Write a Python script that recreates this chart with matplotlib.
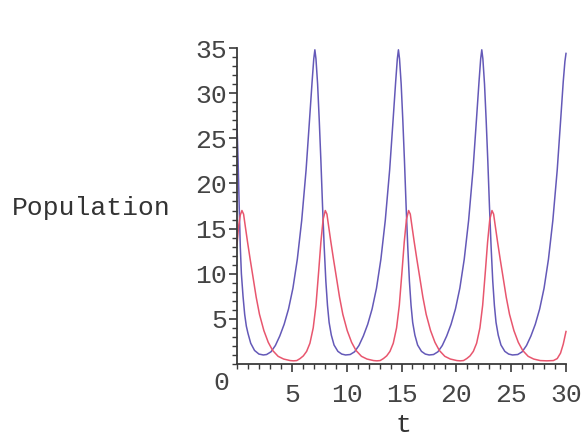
import matplotlib.pyplot as plt
from matplotlib.ticker import MultipleLocator

# values (predator / prey populations)
t_prey = [0.00, 0.10, 0.20, 0.30, 0.40, 0.55, 0.70, 0.85, 1.00, 1.25, 1.60, 2.00, 2.40,
          2.70, 3.10, 3.50, 3.90, 4.30, 4.70, 5.10, 5.50, 5.90, 6.30, 6.60, 6.85, 7.00,
          7.10, 7.20, 7.35, 7.50, 7.65, 7.80, 7.95, 8.10, 8.25, 8.40, 8.60, 8.85, 9.20,
          9.55, 9.90, 10.32, 10.72, 11.12, 11.52, 11.92, 12.32, 12.72, 13.12, 13.52,
          13.92, 14.22, 14.47, 14.62, 14.72, 14.82, 14.97, 15.12, 15.27, 15.42, 15.57,
          15.72, 15.87, 16.02, 16.22, 16.47, 16.82, 17.17, 17.52, 17.92, 18.32, 18.72,
          19.12, 19.52, 19.92, 20.32, 20.72, 21.12, 21.52, 21.82, 22.07, 22.22, 22.32,
          22.42, 22.57, 22.72, 22.87, 23.02, 23.17, 23.32, 23.47, 23.62, 23.82, 24.07,
          24.42, 24.77, 25.12, 25.60, 26.00, 26.40, 26.80, 27.20, 27.60, 28.00, 28.40,
          28.80, 29.20, 29.50, 29.75, 29.90, 30.00]
prey = [26.5, 22.5, 17.5, 13.0, 10.0, 7.5, 5.5, 4.2, 3.4, 2.3, 1.5, 1.1, 1.0,
        1.05, 1.35, 2.05, 3.1, 4.4, 6.1, 8.4, 11.6, 15.9, 21.5, 26.8, 31.3, 33.8,
        34.8, 33.8, 31.0, 27.0, 22.5, 17.5, 13.0, 9.2, 6.5, 4.6, 3.2, 2.1, 1.4,
        1.1, 1.0, 1.05, 1.35, 2.05, 3.1, 4.4, 6.1, 8.4, 11.6, 15.9,
        21.5, 26.8, 31.3, 33.8, 34.8, 33.8, 31.0, 27.0, 22.5, 17.5, 13.0,
        9.2, 6.5, 4.6, 3.2, 2.1, 1.4, 1.1, 1.0, 1.05, 1.35, 2.05,
        3.1, 4.4, 6.1, 8.4, 11.6, 15.9, 21.5, 26.8, 31.3, 33.8, 34.8,
        33.8, 31.0, 27.0, 22.5, 17.5, 13.0, 9.2, 6.5, 4.6, 3.2, 2.1,
        1.4, 1.1, 1.0, 1.05, 1.35, 2.05, 3.1, 4.4, 6.1, 8.4, 11.6,
        15.9, 21.5, 26.8, 31.3, 33.5, 34.4]

t_pred = [0.00, 0.15, 0.30, 0.45, 0.60, 0.75, 0.95, 1.20, 1.45, 1.75, 2.05, 2.45, 2.85,
          3.25, 3.75, 4.25, 4.85, 5.15, 5.45, 5.75, 6.05, 6.35, 6.65, 6.95, 7.20, 7.45,
          7.65, 7.85, 8.05, 8.20, 8.35, 8.55, 8.80, 9.05, 9.35, 9.65, 10.05, 10.45,
          10.85, 11.35, 11.85, 12.45, 12.75, 13.05, 13.35, 13.65, 13.95, 14.25, 14.55,
          14.80, 15.05, 15.25, 15.45, 15.65, 15.80, 15.95, 16.15, 16.40, 16.65, 16.95,
          17.25, 17.65, 18.05, 18.45, 18.95, 19.45, 20.05, 20.35, 20.65, 20.95, 21.25,
          21.55, 21.85, 22.15, 22.40, 22.65, 22.85, 23.05, 23.25, 23.40, 23.55, 23.75,
          24.00, 24.25, 24.55, 24.85, 25.25, 25.65, 26.05, 26.55, 27.05, 27.65, 28.25,
          28.85, 29.20, 29.50, 29.75, 30.00]
pred = [13.2, 15.3, 16.5, 17.0, 16.6, 15.3, 13.6, 11.6, 9.7, 7.4, 5.5, 3.7, 2.4,
        1.5, 0.85, 0.55, 0.38, 0.35, 0.38, 0.6, 0.9, 1.4, 2.3, 4.0, 6.5, 10.3,
        13.5, 16.0, 17.0, 16.6, 15.3, 13.6, 11.6, 9.7, 7.4, 5.5, 3.7, 2.4,
        1.5, 0.85, 0.55, 0.38, 0.35, 0.38, 0.6, 0.9, 1.4, 2.3, 4.0,
        6.5, 10.3, 13.5, 16.0, 17.0, 16.6, 15.3, 13.6, 11.6, 9.7, 7.4,
        5.5, 3.7, 2.4, 1.5, 0.85, 0.55, 0.38, 0.35, 0.38, 0.6, 0.9,
        1.4, 2.3, 4.0, 6.5, 10.3, 13.5, 16.0, 17.0, 16.6, 15.3, 13.6,
        11.6, 9.7, 7.4, 5.5, 3.7, 2.4, 1.5, 0.85, 0.55, 0.38, 0.35,
        0.38, 0.6, 1.2, 2.2, 3.6]

x_ticks = [5, 10, 15, 20, 25, 30]
y_ticks = [5, 10, 15, 20, 25, 30, 35]

W, H = 581, 438
mono = "Liberation Mono"
axis_col = "#3a3a3a"

fig = plt.figure(figsize=(W / 100, H / 100), dpi=100)
ax = fig.add_axes([237 / W, 1 - 364 / H, 329 / W, 316 / H])

ax.plot(t_prey, prey, color="#6459b8", lw=1.1, clip_on=False)
ax.plot(t_pred, pred, color="#e8566e", lw=1.1, clip_on=False)

ax.set_xlim(0, 30)
ax.set_ylim(0, 35)
for s in ["top", "right"]:
    ax.spines[s].set_visible(False)
for s in ["left", "bottom"]:
    ax.spines[s].set_color(axis_col)
    ax.spines[s].set_linewidth(1.3)

ax.set_xticks(x_ticks)
ax.set_yticks(y_ticks)
ax.xaxis.set_minor_locator(MultipleLocator(1))
ax.yaxis.set_minor_locator(MultipleLocator(1))
ax.tick_params(which="major", length=6, width=1.2, color=axis_col)
ax.tick_params(which="minor", length=3.5, width=1.0, color=axis_col)
ax.tick_params(axis="x", which="major", pad=8)
ax.tick_params(axis="y", which="major", pad=1)
for lab in ax.get_xticklabels() + ax.get_yticklabels():
    lab.set_fontfamily(mono)
    lab.set_fontsize(19)
    lab.set_color("#444444")

# Maple-style labels
fig.text(221 / W, 1 - 383 / H, "0", family=mono, fontsize=19, color="#444444",
         ha="center", va="center")
fig.text(12 / W, 1 - 208 / H, "Population", family=mono, fontsize=19,
         color="#333333", ha="left", va="center")
fig.text(403 / W, 1 - 425 / H, "t", family=mono, fontsize=19,
         color="#333333", ha="center", va="center")

fig.savefig("out.png", dpi=100, facecolor="white")
